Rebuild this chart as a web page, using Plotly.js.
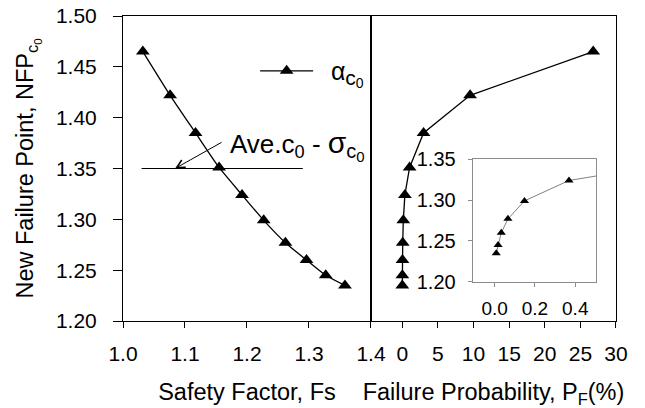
<!DOCTYPE html>
<html>
<head>
<meta charset="utf-8">
<script src="https://cdn.plot.ly/plotly-3.0.1.min.js"></script>
<style>
  html, body { margin: 0; padding: 0; background: #fff; }
  #chart { width: 645px; height: 408px; }
</style>
</head>
<body>
<div id="chart"></div>
<script>
// New failure point of c0 against safety factor and failure probability
const safetyFactor = [1.032, 1.076, 1.117, 1.155, 1.192, 1.227, 1.262, 1.296, 1.327, 1.358];
const failureProb  = [26.8, 9.52, 2.99, 1.03, 0.369, 0.148, 0.066, 0.033, 0.017, 0.008];
const nfp          = [1.465, 1.422, 1.385, 1.351, 1.324, 1.299, 1.277, 1.260, 1.245, 1.235];

// Reference level: mean c0 minus one standard deviation
const aveLevel = 1.35;
const aveSpanFs = [1.03, 1.29];

const leftTicks  = [1.0, 1.1, 1.2, 1.3, 1.4];
const rightTicks = [0, 5, 10, 15, 20, 25, 30];
const yTicks     = [1.20, 1.25, 1.30, 1.35, 1.40, 1.45, 1.50];
const insetXTicks = [0.0, 0.2, 0.4];
const insetYTicks = [1.20, 1.25, 1.30, 1.35];

const FONT = 'Liberation Sans, Arial, Helvetica, sans-serif';

const seriesName = '&nbsp;&nbsp;<span style="font-size:25px">α</span>' +
  '<sub><span style="font-size:21px">c</span><sub><span style="font-size:14px">0</span></sub></sub>';
const aveLabel = 'Ave.c<sub>0</sub> - <span style="font-size:30px">σ</span>' +
  '<sub><span style="font-size:20px">c</span><sub><span style="font-size:15px">0</span></sub></sub>';

const traces = [
  {
    x: safetyFactor, y: nfp, xaxis: 'x', yaxis: 'y',
    type: 'scatter', mode: 'lines+markers',
    line: { color: '#000', width: 1.3, shape: 'spline', smoothing: 0.6 },
    marker: { symbol: 'triangle-up', size: 12, color: '#000' },
    name: seriesName, showlegend: true, cliponaxis: false
  },
  {
    x: failureProb, y: nfp, xaxis: 'x2', yaxis: 'y2',
    type: 'scatter', mode: 'lines+markers',
    line: { color: '#000', width: 1.3 },
    marker: { symbol: 'triangle-up', size: 12, color: '#000' },
    showlegend: false, cliponaxis: false
  },
  {
    x: aveSpanFs, y: [aveLevel, aveLevel], xaxis: 'x', yaxis: 'y',
    type: 'scatter', mode: 'lines',
    line: { color: '#000', width: 1 },
    showlegend: false, hoverinfo: 'skip'
  },
  {
    // inset: zoom on the small failure probabilities
    x: failureProb, y: nfp, xaxis: 'x3', yaxis: 'y3',
    type: 'scatter', mode: 'lines+markers',
    line: { color: '#808080', width: 1 },
    marker: { symbol: 'triangle-up', size: 8, color: '#000' },
    showlegend: false, cliponaxis: true
  }
];

const tickFont = { family: FONT, size: 21, color: '#000' };
const titleFont = { family: FONT, size: 23.5, color: '#000' };

const layout = {
  width: 645, height: 408,
  margin: { l: 123, r: 29, t: 16, b: 87 },
  paper_bgcolor: '#fff', plot_bgcolor: 'rgba(0,0,0,0)',
  font: { family: FONT, color: '#000' },
  showlegend: true,
  legend: {
    x: 0.268, y: 0.82, xanchor: 'left', yanchor: 'middle',
    bgcolor: 'rgba(0,0,0,0)', font: { family: FONT, size: 23, color: '#000' },
    itemwidth: 53
  },
  xaxis: {
    domain: [0, 0.503], range: [1.0, 1.4], anchor: 'y',
    tickvals: leftTicks, ticktext: leftTicks.map(v => v.toFixed(1)),
    ticks: 'outside', ticklen: 6, tickwidth: 1, tickcolor: '#000',
    showline: true, linecolor: '#000', linewidth: 1, mirror: true,
    showgrid: false, zeroline: false, tickfont: tickFont, ticklabelstandoff: 8,
    title: { text: 'Safety Factor, Fs', font: titleFont, standoff: 19 }
  },
  xaxis2: {
    domain: [0.503, 1], range: [-4.39, 30], anchor: 'y2',
    tickvals: rightTicks, ticktext: rightTicks.map(String),
    ticks: 'outside', ticklen: 6, tickwidth: 1, tickcolor: '#000',
    showline: true, linecolor: '#000', linewidth: 1, mirror: true,
    showgrid: false, zeroline: false, tickfont: tickFont, ticklabelstandoff: 8,
    title: { text: 'Failure Probability, P<sub>F</sub>(%)', font: titleFont, standoff: 19 }
  },
  yaxis: {
    domain: [0, 1], range: [1.2, 1.5], anchor: 'x',
    tickvals: yTicks, ticktext: yTicks.map(v => v.toFixed(2)),
    ticks: 'outside', ticklen: 9, tickwidth: 1, tickcolor: '#000',
    showline: true, linecolor: '#000', linewidth: 1, mirror: true,
    showgrid: false, zeroline: false, tickfont: tickFont, ticklabelstandoff: 12,
    title: { text: 'New Failure Point, NFP<sub>c<sub>0</sub></sub>', font: titleFont, standoff: 15 }
  },
  yaxis2: {
    domain: [0, 1], range: [1.2, 1.5], anchor: 'x2',
    showticklabels: false, ticks: '',
    showline: true, linecolor: '#000', linewidth: 1, mirror: true,
    showgrid: false, zeroline: false
  },
  xaxis3: {
    domain: [0.7093, 0.9594], range: [-0.109, 0.503], anchor: 'y3',
    tickvals: insetXTicks, ticktext: insetXTicks.map(v => v.toFixed(1)),
    ticks: 'outside', ticklen: 4, tickwidth: 1, tickcolor: '#8c8c8c',
    showline: true, linecolor: '#8c8c8c', linewidth: 1, mirror: true,
    showgrid: false, zeroline: false,
    tickfont: { family: FONT, size: 19, color: '#000' }, ticklabelstandoff: 6
  },
  yaxis3: {
    domain: [0.1289, 0.5302], range: [1.2, 1.35], anchor: 'x3',
    tickvals: insetYTicks, ticktext: insetYTicks.map(v => v.toFixed(2)),
    ticks: 'outside', ticklen: 4, tickwidth: 1, tickcolor: '#8c8c8c',
    showline: true, linecolor: '#8c8c8c', linewidth: 1, mirror: true,
    showgrid: false, zeroline: false,
    tickfont: { family: FONT, size: 20, color: '#000' }, ticklabelstandoff: 8
  },
  annotations: [
    {
      // arrow pointing at the reference level
      xref: 'x', yref: 'y', x: 1.084, y: aveLevel,
      ax: 48, ay: -27, axref: 'pixel', ayref: 'pixel',
      text: '', showarrow: true, arrowhead: 5, arrowsize: 1.6,
      arrowwidth: 1, arrowcolor: '#000', standoff: 0
    },
    {
      xref: 'x', yref: 'y', x: 1.169, y: 1.373,
      xanchor: 'left', yanchor: 'middle',
      text: aveLabel,
      showarrow: false, font: { family: FONT, size: 26, color: '#000' }
    }
  ]
};

Plotly.newPlot('chart', traces, layout, { staticPlot: true, displayModeBar: false });
</script>
</body>
</html>
